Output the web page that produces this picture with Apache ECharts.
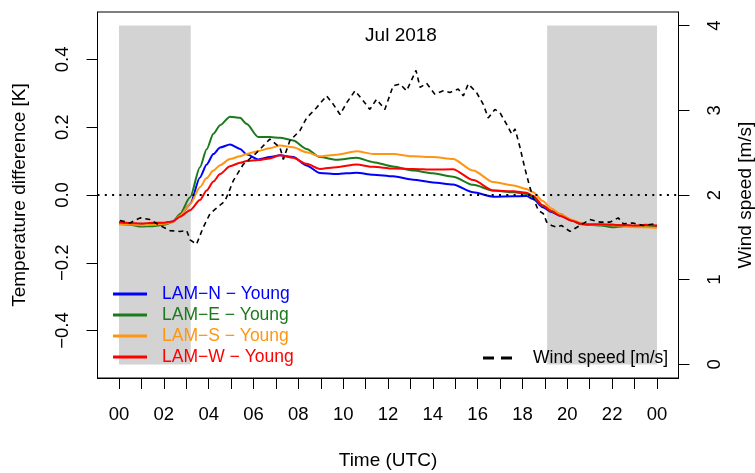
<!DOCTYPE html>
<html>
<head>
<meta charset="utf-8">
<script src="https://cdn.jsdelivr.net/npm/echarts@6/dist/echarts.min.js"></script>
<style>
html,body{margin:0;padding:0;background:#fff;}
#chart{width:755px;height:473px;}
</style>
</head>
<body>
<div id="chart"></div>
<script>
// ---- data ----
const hours = [0, 0.5, 1, 1.5, 2, 2.4, 2.72, 3.17, 3.61, 3.91, 4.21, 4.51, 4.95, 5.4, 5.69, 6.21, 6.73, 7.18, 7.77, 8.37, 8.96, 9.71, 10.6, 11.34, 12.23, 13.13, 14.0, 14.9, 15.8, 16.7, 17.6, 18.18, 18.48, 18.9, 19.3, 19.67, 20.2, 20.6, 21.0, 21.5, 22.0, 22.5, 23.0, 23.5, 24];
const lamN = [-0.082,-0.085,-0.086,-0.085,-0.083,-0.078,-0.061,-0.027,0.052,0.090,0.121,0.140,0.149,0.136,0.120,0.105,0.112,0.117,0.112,0.087,0.065,0.062,0.066,0.060,0.055,0.045,0.037,0.031,0.008,-0.005,-0.004,-0.003,-0.012,-0.036,-0.050,-0.061,-0.075,-0.084,-0.087,-0.087,-0.088,-0.090,-0.092,-0.092,-0.092];
const lamE = [-0.085,-0.088,-0.093,-0.092,-0.088,-0.080,-0.056,-0.007,0.082,0.135,0.181,0.206,0.231,0.228,0.210,0.171,0.171,0.169,0.161,0.136,0.112,0.104,0.110,0.097,0.084,0.072,0.064,0.054,0.030,0.013,0.008,0.003,-0.007,-0.032,-0.048,-0.056,-0.075,-0.086,-0.088,-0.090,-0.095,-0.092,-0.093,-0.094,-0.095];
const lamS = [-0.087,-0.087,-0.089,-0.088,-0.085,-0.080,-0.061,-0.027,0.023,0.050,0.072,0.088,0.106,0.114,0.121,0.130,0.138,0.146,0.141,0.126,0.114,0.119,0.129,0.121,0.121,0.114,0.112,0.106,0.072,0.038,0.028,0.018,0.008,-0.018,-0.040,-0.056,-0.073,-0.083,-0.087,-0.088,-0.089,-0.091,-0.095,-0.095,-0.097];
const lamW = [-0.080,-0.083,-0.084,-0.082,-0.082,-0.078,-0.064,-0.045,-0.015,0.013,0.040,0.062,0.085,0.095,0.100,0.103,0.108,0.117,0.110,0.092,0.077,0.082,0.090,0.083,0.078,0.077,0.075,0.076,0.044,0.013,0.011,0.007,-0.003,-0.030,-0.048,-0.061,-0.076,-0.085,-0.087,-0.087,-0.088,-0.089,-0.090,-0.088,-0.090];

const windHours = [0.04,0.49,0.94,1.38,1.83,2.27,2.72,3.02,3.17,3.46,3.76,4.06,4.28,4.73,4.95,5.1,5.54,6.14,6.73,7.18,7.33,7.62,8.07,8.37,8.81,9.26,9.56,9.86,10.16,10.53,10.9,11.19,11.49,11.86,12.23,12.53,12.83,13.25,13.43,13.72,14.09,14.47,14.76,15.14,15.36,15.58,15.95,16.25,16.47,16.77,17.0,17.3,17.52,17.67,17.89,18.1,18.33,18.48,18.7,18.93,19.08,19.3,19.52,19.74,20.12,20.56,21.0,21.45,21.9,22.27,22.5,22.93,23.37,23.9];
const windSpeed = [1.70,1.67,1.73,1.71,1.64,1.58,1.57,1.58,1.47,1.42,1.62,1.78,1.83,1.93,2.07,2.17,2.36,2.50,2.66,2.56,2.42,2.64,2.76,2.91,3.03,3.17,3.07,2.95,3.09,3.23,3.11,3.01,3.13,3.01,3.29,3.31,3.23,3.47,3.27,3.32,3.19,3.23,3.21,3.25,3.17,3.31,3.21,3.07,2.91,3.01,2.97,2.83,2.72,2.78,2.56,2.32,2.09,1.97,1.82,1.78,1.68,1.64,1.62,1.64,1.57,1.64,1.71,1.68,1.68,1.73,1.66,1.67,1.64,1.66];

const seriesNames = ['LAM\u2212N \u2212 Young','LAM\u2212E \u2212 Young','LAM\u2212S \u2212 Young','LAM\u2212W \u2212 Young'];
const windName = 'Wind speed [m/s]';
const xTicks = [0,1,2,3,4,5,6,7,8,9,10,11,12,13,14,15,16,17,18,19,20,21,22,23,24];
const xLabelValues = [0,2,4,6,8,10,12,14,16,18,20,22,24];
const tempTicks = [-0.4,-0.2,0,0.2,0.4];
const windTicks = [0,1,2,3,4];
const nightSpans = [[0,3.2],[19.1,24]];

// ---- styles ----
const FONT = "'Liberation Sans', Arial, Helvetica, sans-serif";
const colors = ['#0000FF','#1C7A1C','#FF9510','#FF0000'];
const pair = (xs, ys) => xs.map((x,i)=>[x, ys[i]]);
const tempData = [lamN, lamE, lamS, lamW];

const chart = echarts.init(document.getElementById('chart'), null, {renderer:'canvas'});

const baseAxisText = {color:'#000', fontFamily: FONT, fontSize: 18.5};
const option = {
  animation: false,
  backgroundColor: '#fff',
  textStyle: {fontFamily: FONT},
  title: {
    text: 'Jul 2018', left: 401, top: 26, textAlign: 'center', padding: 0,
    textStyle: {color:'#000', fontFamily: FONT, fontSize: 19, fontWeight: 'normal'}
  },
  grid: {left: 97.5, right: 76.5, top: 12, bottom: 95, show: true, borderColor:'#000', borderWidth: 1,
         backgroundColor:'transparent', containLabel:false, outerBoundsMode: 'none'},
  legend: [
    {
      orient: 'vertical', left: 113, top: 283.5, padding: 0, itemGap: 0,
      itemWidth: 34, itemHeight: 3, icon: 'rect',
      textStyle: {fontFamily: FONT, fontSize: 17.5, lineHeight: 21, padding: [0,0,0,10]},
      selectedMode: false,
      data: seriesNames.map((n,i)=>({name:n, textStyle:{color: colors[i]}}))
    },
    {
      orient: 'vertical', left: 483, top: 347.5, padding: 0, itemGap: 0,
      itemWidth: 29, itemHeight: 3,
      icon: 'path://M0,0h11v3h-11z M18,0h11v3h-11z',
      textStyle: {fontFamily: FONT, fontSize: 17.5, lineHeight: 21, color:'#000', padding: [0,0,0,16]},
      selectedMode: false,
      data: [{name: windName}]
    }
  ],
  xAxis: {
    type: 'value', min: -0.96, max: 24.96,
    axisLine: {show: true, onZero: false, lineStyle: {color:'#000', width: 1}},
    axisTick: {show: true, inside: false, length: 11, customValues: xTicks, lineStyle: {color:'#000', width: 1}},
    axisLabel: Object.assign({show: true, margin: 27, customValues: xLabelValues,
      formatter: v => String(Math.round(v) % 24).padStart(2,'0')}, baseAxisText),
    splitLine: {show: false},
    name: 'Time (UTC)', nameLocation: 'middle', nameGap: 73,
    nameTextStyle: {color:'#000', fontFamily: FONT, fontSize: 19}
  },
  yAxis: [
    {
      type: 'value', min: -0.54, max: 0.54, position: 'left',
      axisLine: {show: true, onZero: false, lineStyle: {color:'#000', width: 1}},
      axisTick: {show: true, inside: false, length: 11, customValues: tempTicks, lineStyle: {color:'#000', width: 1}},
      axisLabel: Object.assign({show: true, rotate: 90, margin: 25, customValues: tempTicks,
        formatter: v => (v < -1e-9 ? '\u2212' : '') + Math.abs(v).toFixed(1)}, baseAxisText),
      splitLine: {show: false},
      name: 'Temperature difference [K]', nameLocation: 'middle', nameRotate: 90, nameGap: 68,
      nameTextStyle: {color:'#000', fontFamily: FONT, fontSize: 19}
    },
    {
      type: 'value', min: -0.16, max: 4.16, position: 'right',
      axisLine: {show: true, onZero: false, lineStyle: {color:'#000', width: 1}},
      axisTick: {show: true, inside: false, length: 11, customValues: windTicks, lineStyle: {color:'#000', width: 1}},
      axisLabel: Object.assign({show: true, rotate: 90, margin: 27, customValues: windTicks,
        formatter: v => String(Math.round(v))}, baseAxisText),
      splitLine: {show: false},
      name: windName, nameLocation: 'middle', nameRotate: 90, nameGap: 58,
      nameTextStyle: {color:'#000', fontFamily: FONT, fontSize: 19}
    }
  ],
  series: [
    {
      name: 'night', type: 'line', yAxisIndex: 1, data: [], z: 0, silent: true,
      markArea: {
        silent: true,
        itemStyle: {color: '#D3D3D3'},
        label: {show: false},
        data: nightSpans.map(s => [{xAxis: s[0], yAxis: windTicks[0]}, {xAxis: s[1], yAxis: windTicks[windTicks.length-1]}])
      }
    },
    {
      name: 'zero', type: 'line', yAxisIndex: 0, data: [], z: 1, silent: true,
      markLine: {
        silent: true, symbol: ['none','none'], label: {show: false},
        lineStyle: {color:'#000', type: [2,5.3], width: 2},
        data: [{yAxis: 0}]
      }
    }
  ].concat(seriesNames.map((n,i)=>({
    name: n, type: 'line', yAxisIndex: 0, z: 3,
    data: pair(hours, tempData[i]),
    showSymbol: false, symbol: 'none', smooth: 0.25, smoothMonotone: 'x',
    lineStyle: {color: colors[i], width: 2},
    itemStyle: {color: colors[i]}
  }))).concat([{
    name: windName, type: 'line', yAxisIndex: 1, z: 4,
    data: pair(windHours, windSpeed),
    showSymbol: false, symbol: 'none',
    lineStyle: {color: '#000', width: 1.6, type: [5,4]},
    itemStyle: {color: '#000'}
  }])
};
chart.setOption(option);
</script>
</body>
</html>
